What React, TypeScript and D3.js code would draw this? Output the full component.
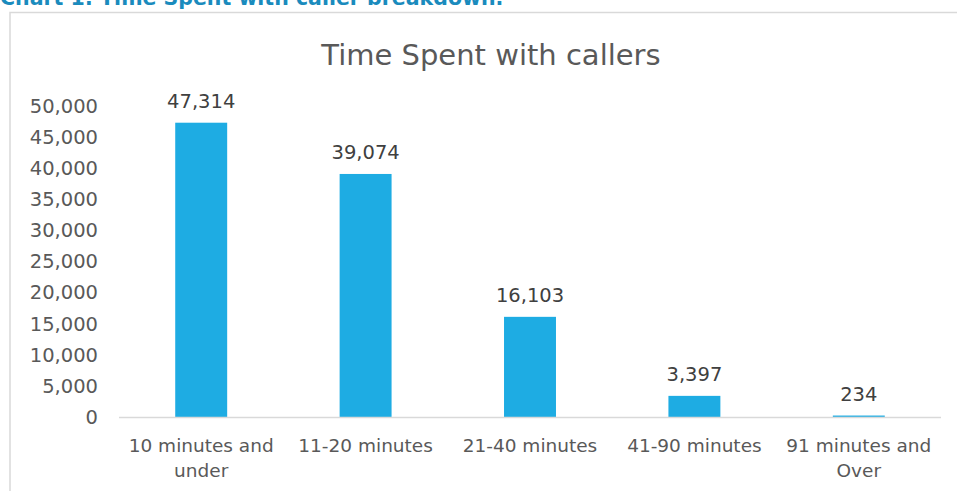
import * as d3 from 'd3';

const categories = ['10 minutes and under', '11-20 minutes', '21-40 minutes', '41-90 minutes', '91 minutes and Over'];
const categoryLines = [['10 minutes and', 'under'], ['11-20 minutes'], ['21-40 minutes'], ['41-90 minutes'], ['91 minutes and', 'Over']];
const values = [47314, 39074, 16103, 3397, 234];
const yTicks = [0, 5000, 10000, 15000, 20000, 25000, 30000, 35000, 40000, 45000, 50000];

export default function App() {
  const width = 957;
  const height = 491;
  const font = '"DejaVu Sans", sans-serif';

  const x = d3.scaleBand().domain(categories).range([119, 941]).paddingInner(0.684).paddingOuter(0.342);
  const y = d3.scaleLinear().domain([0, 50000]).range([417, 106]);
  const fmt = d3.format(',');

  return (
    <svg width={width} height={height} style={{ position: 'absolute', left: 0, top: 0, background: '#fff' }}>
      {/* heading of the page, cut off at top like the source */}
      <text x={0} y={5} fill="#1a8bbd" fontFamily={font} fontWeight="bold" fontSize={20.5}>
        Chart 1: Time Spent with caller breakdown.
      </text>
      {/* chart frame */}
      <path d={`M10,${height + 2}V12.5H${width + 2}`} fill="none" stroke="#d9d9d9" strokeWidth={1.5} />

      <text x={491} y={65} textAnchor="middle" fill="#595959" fontFamily={font} fontSize={29}>
        Time Spent with callers
      </text>

      <g fontFamily={font} fontSize={19.5} fill="#595959">
        {yTicks.map(t => (
          <text key={t} x={98} y={y(t)} dy="0.35em" textAnchor="end">{fmt(t)}</text>
        ))}
      </g>

      {categories.map((c, i) => (
        <rect key={c} x={x(c)} y={y(values[i])} width={x.bandwidth()} height={y(0) - y(values[i])} fill="#1eace3" />
      ))}

      <line x1={119} x2={941} y1={y(0) + 0.5} y2={y(0) + 0.5} stroke="#d9d9d9" strokeWidth={1.5} />

      <g fontFamily={font} fontSize={19.5} fill="#404040" textAnchor="middle">
        {categories.map((c, i) => (
          <text key={c} x={(x(c) ?? 0) + x.bandwidth() / 2} y={y(values[i]) - 15}>{fmt(values[i])}</text>
        ))}
      </g>

      <g fontFamily={font} fontSize={18.5} fill="#595959" textAnchor="middle">
        {categories.map((c, i) => (
          <text key={c} x={(x(c) ?? 0) + x.bandwidth() / 2} y={452}>
            {categoryLines[i].map((l, j) => (
              <tspan key={j} x={(x(c) ?? 0) + x.bandwidth() / 2} dy={j === 0 ? 0 : 25}>{l}</tspan>
            ))}
          </text>
        ))}
      </g>
    </svg>
  );
}
